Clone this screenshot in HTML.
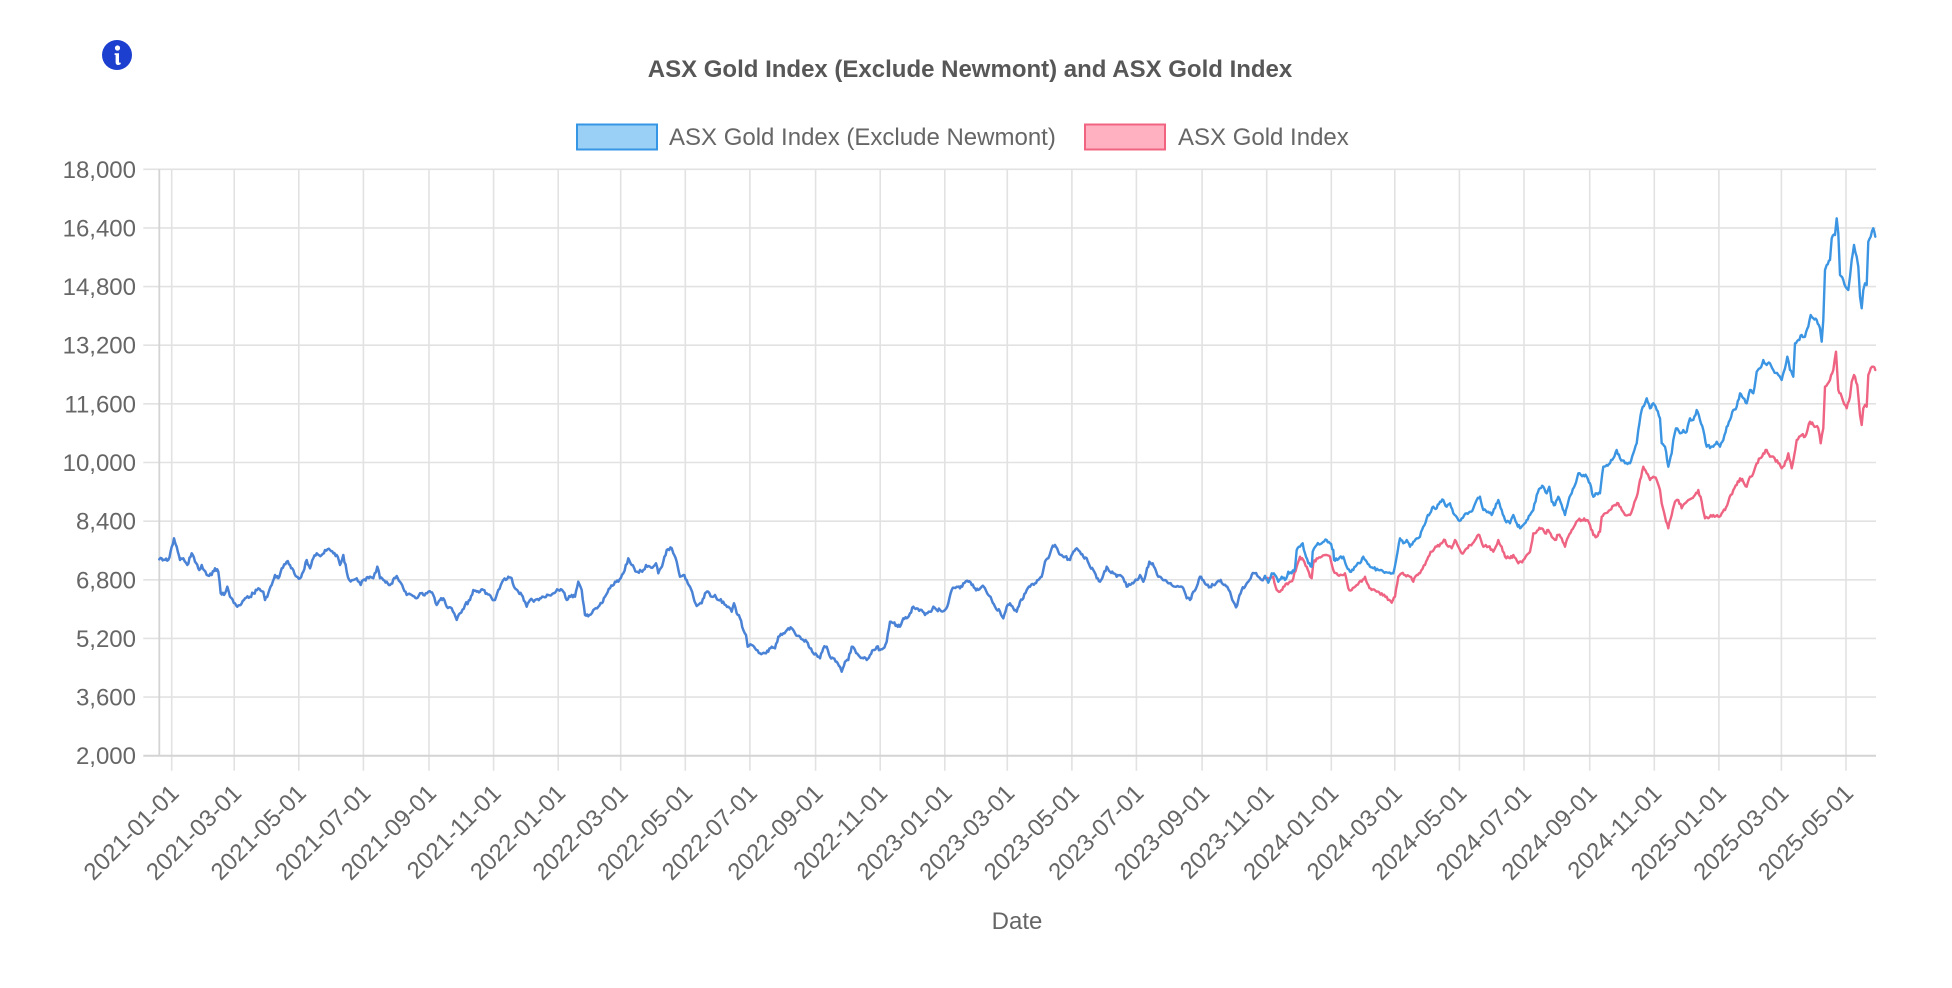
<!DOCTYPE html>
<html><head><meta charset="utf-8">
<style>
html,body{margin:0;padding:0;background:#fff;}
svg{display:block;font-family:"Liberation Sans",Arial,sans-serif;}
</style></head><body>
<svg id="c" width="1952" height="988" viewBox="0 0 1952 988" xmlns="http://www.w3.org/2000/svg">
<rect width="1952" height="988" fill="#fff"/>
<g id="grid" fill="none"></g>
<g id="series" fill="none" stroke-linejoin="round" stroke-linecap="round"></g>

<!-- info icon -->
<circle cx="117" cy="55" r="15" fill="#1c3fcf"/>
<circle cx="117.5" cy="48" r="2.6" fill="#fff"/>
<path d="M114.6,53.2 L119,53.2 L119,61.5 Q119,63.4 121,62.6 L120.4,64.4 Q115.4,66.4 115.6,61.8 L115.6,55 L114.6,55 Z" fill="#fff"/>

<!-- title -->
<text x="970" y="77" text-anchor="middle" font-size="24" font-weight="bold" fill="#575757">ASX Gold Index (Exclude Newmont) and ASX Gold Index</text>

<!-- legend -->
<rect x="577" y="124.5" width="80" height="25" fill="rgba(54,162,235,0.5)" stroke="rgb(54,150,230)" stroke-width="2"/>
<text x="669" y="145" font-size="24" fill="#666">ASX Gold Index (Exclude Newmont)</text>
<rect x="1085" y="124.5" width="80" height="25" fill="rgba(255,99,132,0.5)" stroke="rgb(240,100,130)" stroke-width="2"/>
<text x="1178" y="145" font-size="24" fill="#666">ASX Gold Index</text>

<!-- y labels -->
<g font-size="24" fill="#666" text-anchor="end">
<text x="136" y="177.8">18,000</text>
<text x="136" y="236.4">16,400</text>
<text x="136" y="295.1">14,800</text>
<text x="136" y="353.7">13,200</text>
<text x="136" y="412.4">11,600</text>
<text x="136" y="471">10,000</text>
<text x="136" y="529.6">8,400</text>
<text x="136" y="588.3">6,800</text>
<text x="136" y="646.9">5,200</text>
<text x="136" y="705.6">3,600</text>
<text x="136" y="764.2">2,000</text>
</g>

<!-- x labels -->
<g font-size="24" fill="#666" text-anchor="end">
<text transform="translate(174.7,789) rotate(-45)" dy="8">2021-01-01</text>
<text transform="translate(237.2,789) rotate(-45)" dy="8">2021-03-01</text>
<text transform="translate(301.8,789) rotate(-45)" dy="8">2021-05-01</text>
<text transform="translate(366.4,789) rotate(-45)" dy="8">2021-07-01</text>
<text transform="translate(432.0,789) rotate(-45)" dy="8">2021-09-01</text>
<text transform="translate(496.6,789) rotate(-45)" dy="8">2021-11-01</text>
<text transform="translate(561.2,789) rotate(-45)" dy="8">2022-01-01</text>
<text transform="translate(623.7,789) rotate(-45)" dy="8">2022-03-01</text>
<text transform="translate(688.3,789) rotate(-45)" dy="8">2022-05-01</text>
<text transform="translate(752.9,789) rotate(-45)" dy="8">2022-07-01</text>
<text transform="translate(818.6,789) rotate(-45)" dy="8">2022-09-01</text>
<text transform="translate(883.2,789) rotate(-45)" dy="8">2022-11-01</text>
<text transform="translate(947.8,789) rotate(-45)" dy="8">2023-01-01</text>
<text transform="translate(1010.3,789) rotate(-45)" dy="8">2023-03-01</text>
<text transform="translate(1074.9,789) rotate(-45)" dy="8">2023-05-01</text>
<text transform="translate(1139.4,789) rotate(-45)" dy="8">2023-07-01</text>
<text transform="translate(1205.1,789) rotate(-45)" dy="8">2023-09-01</text>
<text transform="translate(1269.7,789) rotate(-45)" dy="8">2023-11-01</text>
<text transform="translate(1334.3,789) rotate(-45)" dy="8">2024-01-01</text>
<text transform="translate(1397.8,789) rotate(-45)" dy="8">2024-03-01</text>
<text transform="translate(1462.4,789) rotate(-45)" dy="8">2024-05-01</text>
<text transform="translate(1527.0,789) rotate(-45)" dy="8">2024-07-01</text>
<text transform="translate(1592.7,789) rotate(-45)" dy="8">2024-09-01</text>
<text transform="translate(1657.3,789) rotate(-45)" dy="8">2024-11-01</text>
<text transform="translate(1721.9,789) rotate(-45)" dy="8">2025-01-01</text>
<text transform="translate(1784.4,789) rotate(-45)" dy="8">2025-03-01</text>
<text transform="translate(1849.0,789) rotate(-45)" dy="8">2025-05-01</text>
</g>

<text x="1017" y="929" text-anchor="middle" font-size="24" fill="#666">Date</text>
</svg>
<script>
(function(){
var NS="http://www.w3.org/2000/svg";
var grid=document.getElementById("grid");
function line(x1,y1,x2,y2,c,w){var l=document.createElementNS(NS,"line");l.setAttribute("x1",x1);l.setAttribute("y1",y1);l.setAttribute("x2",x2);l.setAttribute("y2",y2);l.setAttribute("stroke",c);l.setAttribute("stroke-width",w);grid.appendChild(l);}
var top=169.3,bot=755.7,L=159.3,R=1876;
var ticks=[171.7,234.2,298.8,363.4,429.0,493.6,558.2,620.7,685.3,749.9,815.6,880.2,944.8,1007.3,1071.9,1136.4,1202.1,1266.7,1331.3,1394.8,1459.4,1524.0,1589.7,1654.3,1718.9,1781.4,1846.0];
for(var i=0;i<ticks.length;i++){line(ticks[i],top,ticks[i],bot+15,"#e2e2e2",1.6);}
for(var k=0;k<=10;k++){var y=top+k*(bot-top)/10;line(L-16,y,R,y,k==10?"#d4d4d4":"#e2e2e2",k==10?2:1.6);}
line(L,top,L,bot,"#d4d4d4",1.8);

function seg(arr,ox,oy,zmin,zmax){var o=[];for(var i=0;i<arr.length;i+=2){var zx=arr[i],zy=arr[i+1];if(zx>=zmin&&zx<=zmax)o.push([ox+zx/3,oy+zy/3]);}return o;}
var s=4242;function rnd(){s=(s*16807)%2147483647;return s/2147483647;}
function rough(p){var o=[p[0]];for(var i=1;i<p.length;i++){var a=p[i-1],b=p[i];var dx=b[0]-a[0];var n=Math.max(1,Math.round(Math.abs(dx)/1.2));for(var k=1;k<=n;k++){var t=k/n;var y=a[1]+(b[1]-a[1])*t;if(k<n)y+=(rnd()-0.5)*3.4;o.push([a[0]+dx*t,y]);}}return o;}
function path(p,c,w){var d="M"+p.map(function(q){return q[0].toFixed(1)+","+q[1].toFixed(1);}).join("L");var e=document.createElementNS(NS,"path");e.setAttribute("d",d);e.setAttribute("stroke",c);e.setAttribute("stroke-width",w);document.getElementById("series").appendChild(e);}

var A=[28,178,55,180,72,115,80,140,90,180,100,175,112,195,125,160,135,185,148,210,155,195,170,225,185,225,195,205,205,215,212,280,222,285,232,260,240,290,255,310,262,320,275,310,285,295,300,290,310,280,325,265,340,275,345,300,355,280,365,255,375,225,385,235,395,205,410,185,420,195,430,210,440,230,450,235,460,215,470,180,480,205,490,175,500,160,515,165,525,150,540,150,550,160,560,165,570,195,580,165,590,215,598,240,610,240,620,235,632,255,640,240,660,230,670,235,682,200,690,235,700,240,710,245,720,255,740,228,750,245,760,265,770,285,785,285,800,295,810,280,820,285,835,275,850,285,860,315,870,300,880,295,890,320,905,325,920,360,930,340,945,315,960,300,970,270,980,275,990,275,1000,270,1010,280,1025,295,1035,300,1045,270,1060,240,1075,230,1085,235,1095,265,1105,275,1115,285,1125,305,1130,320,1140,300,1155,300,1170,295,1180,290,1195,285,1210,280,1225,270,1240,275,1250,300,1265,285,1275,290,1285,245,1295,270,1305,345,1318,345,1330,330,1345,320,1355,310,1365,290,1380,265,1395,245,1405,245,1420,220,1435,175,1445,195,1460,215];
var B=[0,215,10,210,18,195,30,200,40,200,48,190,55,220,62,205,70,185,80,150,95,145,100,160,110,185,120,230,130,225,140,240,150,260,160,290,170,318,185,310,195,280,205,275,215,290,225,285,235,300,250,305,265,320,275,335,282,310,290,340,300,355,310,390,318,405,323,440,335,435,345,445,360,460,375,460,385,455,395,440,405,445,415,410,430,400,445,385,455,385,465,400,480,410,490,420,500,425,510,445,520,460,530,465,540,475,550,445,560,440,570,470,580,475,590,485,600,500,605,515,615,485,625,480,635,440,645,450,655,465,670,475,680,480,690,465,700,450,710,440,720,450,730,445,740,425,750,365,770,375,780,380,790,355,800,355,810,340,820,320,830,325,845,330,855,345,870,335,880,320,890,330,900,330,915,330,925,310,935,270,950,260,960,265,970,250,985,245,995,255,1005,265,1015,270,1025,260,1035,265,1045,285,1055,300,1065,320,1080,335,1090,355,1100,320,1110,310,1120,325,1130,335,1140,305,1150,295,1160,270,1170,260,1185,250,1195,240,1205,230,1215,185,1225,175,1235,145,1245,135,1255,155,1265,165,1275,170,1290,180,1300,155,1310,145,1320,155,1330,170,1340,175,1350,200,1360,210,1370,235,1380,245,1390,225,1400,200,1410,215,1420,220,1430,230,1440,225,1450,235,1460,260,1470,255];
var C=[0,555,10,550,20,540,30,525,40,545,48,520,58,485,68,490,75,505,85,530,95,535,105,540,115,550,125,555,135,560,150,560,160,565,170,595,180,600,190,575,200,560,210,530,220,540,230,555,240,560,250,555,262,545,272,540,282,555,292,560,300,575,310,605,318,622,325,600,335,570,345,560,355,545,365,525,375,520,385,530,395,540,405,528,415,548,425,520,435,525,445,545,455,530,465,540,475,515,485,520,495,505,500,450,510,440,518,430,525,460,535,490,545,500,548,455,560,435,575,430,590,420,600,430,610,450,612,480,625,478,640,470,650,500,660,515,670,510,680,495,690,490,700,470,710,485,720,500,730,505,745,510,760,515,775,518,790,520,800,470,810,415,820,430,830,420,840,440,850,425,860,415,870,410,880,380,890,355,900,340,910,320,920,325,930,305,940,300,950,320,960,310,970,340,985,360,995,355,1010,340,1020,335,1030,325,1040,300,1050,290,1060,330,1075,335,1085,345,1095,325,1105,300,1115,330,1125,360,1140,370,1150,345,1160,370,1170,385,1180,375,1190,360,1200,345];
var Cr=[405,528,410,540,420,535,430,530,440,570,450,575,460,560,470,550,480,545,490,535,500,500,510,470,520,480,530,500,540,530,545,535,550,490,560,475,575,470,590,465,600,470,610,510,620,520,635,525,645,520,655,565,665,570,680,555,695,545,705,530,715,555,725,570,740,575,755,580,770,590,785,608,795,590,805,530,815,520,825,525,840,530,850,545,860,525,870,520,885,495,895,470,905,455,920,440,935,430,945,420,955,440,965,445,975,420,985,440,995,460,1010,445,1020,435,1035,420,1048,405,1060,440,1075,440,1090,455,1105,420,1115,440,1125,470,1140,475,1150,465,1165,490,1180,480,1200,455];
var D=[100,930,110,885,120,865,130,860,140,880,148,860,155,905,165,915,175,890,185,915,195,945,205,905,215,880,225,855,235,820,250,825,260,830,270,850,280,890,290,880,300,880,310,800,320,795,330,790,340,775,350,750,360,775,375,790,390,790,400,760,410,730,415,690,425,630,435,610,440,595,450,625,460,610,470,630,480,655,485,730,495,740,505,800,515,760,520,720,528,685,540,700,550,690,560,695,570,655,580,660,590,630,600,660,610,690,620,740,640,740,650,725,660,740,670,720,680,680,690,660,700,630,710,620,720,580,730,595,740,610,750,570,760,580,770,515,780,505,790,480,800,495,810,490,820,510,835,525,845,540,855,505,862,470,870,510,880,530,885,430,895,420,905,405,915,410,925,380,932,345,940,355,950,360,960,385,965,425,970,360,975,210,980,195,990,180,995,115,1005,105,1010,55,1015,100,1020,225,1030,240,1040,265,1045,270,1050,230,1055,180,1062,135,1070,170,1075,200,1080,290,1085,325,1090,270,1095,250,1100,255,1105,125,1112,110,1120,85,1126,110];
var Dr=[100,1000,105,1000,115,990,125,985,135,1000,145,990,155,1010,165,1020,175,1005,185,1015,195,1040,205,1010,215,990,225,975,235,960,245,960,260,960,270,975,280,1005,290,1010,300,995,305,950,315,940,330,930,345,915,355,910,365,930,375,945,390,945,400,920,410,890,420,840,430,800,440,820,450,840,460,830,470,840,480,870,485,910,495,950,505,985,515,945,525,905,535,900,545,925,555,910,565,900,575,895,585,885,595,870,605,905,615,955,625,955,640,945,655,950,665,940,675,930,685,905,700,870,710,855,720,835,730,845,740,860,750,830,760,820,770,790,780,775,790,760,800,750,810,770,820,770,835,790,845,805,860,780,865,760,875,805,882,770,890,720,905,705,915,710,930,665,940,675,955,685,962,730,970,685,975,560,990,540,1000,510,1008,455,1015,570,1025,590,1040,625,1050,590,1055,545,1062,525,1072,555,1080,645,1085,675,1090,625,1095,615,1100,620,1105,525,1112,505,1120,500,1126,510];

var early=[].concat(seg(A,150,500,0,1460),seg(B,640,500,1,1470),seg(C,1130,400,1,405));
var late=[].concat(seg(C,1130,400,405,1200),seg(D,1500,200,100,2000));
var red=[].concat(seg(Cr,1130,400,0,1200),seg(Dr,1500,200,100,2000));
path(rough(red),"#ee6482",2.4);
path(rough(early),"#4a82d6",2.5);
path(rough(late),"#3b95e3",2.4);
})();
</script>
</body></html>
